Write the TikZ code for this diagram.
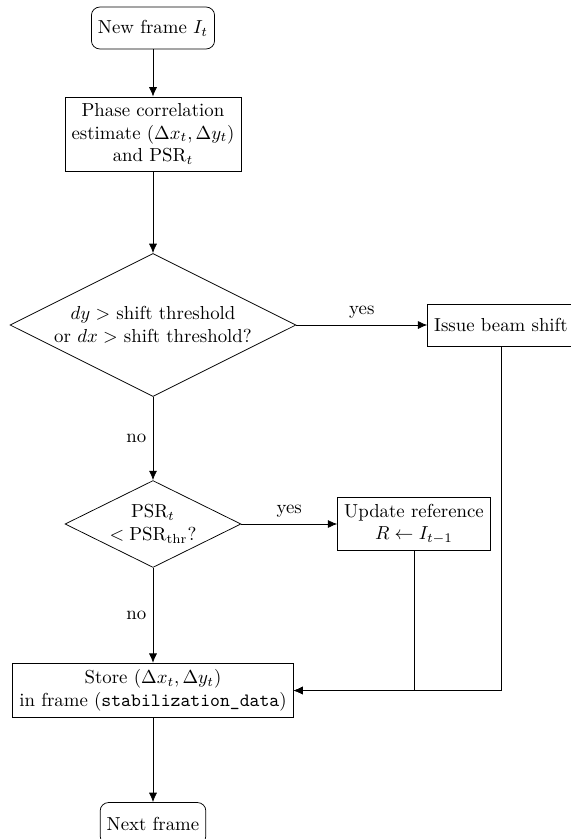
\documentclass[tikz,border=0pt]{standalone}
\usetikzlibrary{shapes.geometric, arrows.meta}
\begin{document}
\begin{tikzpicture}[x=0.5315pt, y=-0.5315pt,
  >={Latex[length=5pt,width=4.3pt]},
  procbox/.style={draw, rectangle, align=center, minimum height=22.3pt, inner sep=3.5pt},
  termbox/.style={procbox, rounded corners=4.5pt},
  decide/.style={draw, diamond, aspect=2, inner sep=0pt, align=center},
  flow/.style={->, line width=0.4pt}
]
\useasboundingbox (0,0) rectangle (571,839);

% main column
\node[termbox] (start) at (153,28) {New frame $I_t$};
\node[procbox] (phase) at (153,134) {Phase correlation\\estimate $(\Delta x_t, \Delta y_t)$\\and $\mathrm{PSR}_t$};
\node[decide, minimum width=152pt, minimum height=76pt] (dia1) at (153,325)
  {$dy >$ shift threshold\\or $dx >$ shift threshold?};
\node[decide, minimum width=93.5pt, minimum height=46.2pt] (dia2) at (153,524)
  {$\mathrm{PSR}_t$\\$< \mathrm{PSR}_{\mathrm{thr}}$?};
\node[procbox] (store) at (153,690.5) {Store $(\Delta x_t, \Delta y_t)$\\in frame (\texttt{stabilization\_data})};
\node[termbox] (next) at (153,823.5) {Next frame};

% side actions
\node[procbox] (issue) at (501,325) {Issue beam shift};
\node[procbox] (update) at (414,524) {Update reference\\$R \leftarrow I_{t-1}$};

% connectors
\draw[flow] (start) -- (phase);
\draw[flow] (phase) -- (dia1);
\draw[flow] (dia1) -- node[above] {yes} (issue);
\draw[flow] (dia1) -- node[left] {no} (dia2);
\draw[flow] (dia2) -- node[above] {yes} (update);
\draw[flow] (dia2) -- node[left] {no} (store);
\draw[flow] (update.south) |- (store.east);
\draw[flow] (issue.south) |- (store.east);
\draw[flow] (store) -- (next);
\end{tikzpicture}
\end{document}
